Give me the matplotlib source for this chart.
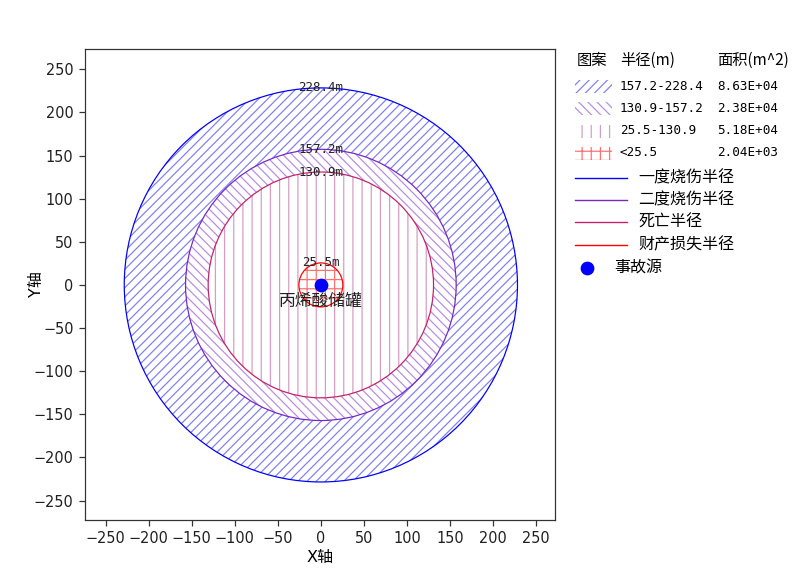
import matplotlib
matplotlib.use("Agg")
import matplotlib.pyplot as plt
from matplotlib.patches import Annulus, Circle, Rectangle
from matplotlib.lines import Line2D

# ---- data ----
radii = [228.4, 157.2, 130.9, 25.5]
radius_labels = ["228.4m", "157.2m", "130.9m", "25.5m"]
range_labels = ["157.2-228.4", "130.9-157.2", "25.5-130.9", "<25.5"]
area_labels = ["8.63E+04", "2.38E+04", "5.18E+04", "2.04E+03"]
line_names = ["一度烧伤半径", "二度烧伤半径", "死亡半径", "财产损失半径"]
source_xy = (0, 0)
source_name = "丙烯酸储罐"
source_label = "事故源"
ticks = [-250, -200, -150, -100, -50, 0, 50, 100, 150, 200, 250]

# ---- styles ----
hatches = ["////", "\\\\\\\\", "||", "++"]
hatch_colors = ["#8080f4", "#b88ce6", "#d89cc0", "#ff7070"]
edge_colors = ["#0000ff", "#7428c4", "#c4206c", "#ff0000"]

plt.rcParams['hatch.linewidth'] = 0.8
CJK = ['DejaVu Sans', 'Noto Sans CJK SC']
MONO = ['DejaVu Sans Mono', 'Noto Sans CJK SC']

DPI = 110
fig = plt.figure(figsize=(812 / DPI, 584 / DPI), dpi=DPI)
ax = fig.add_axes([85 / 812, 1 - 520 / 584, (555 - 85) / 812, (520 - 49) / 584])

# filled rings
for i, r in enumerate(radii):
    inner = radii[i + 1] if i + 1 < len(radii) else 0.0
    if inner > 0:
        p = Annulus(source_xy, r, r - inner, facecolor="none",
                    edgecolor=hatch_colors[i], hatch=hatches[i], linewidth=0)
    else:
        p = Circle(source_xy, r, facecolor="none", edgecolor=hatch_colors[i],
                   hatch=hatches[i], linewidth=0)
    ax.add_patch(p)

# outlines and labels
for i, r in enumerate(radii):
    ax.add_patch(Circle(source_xy, r, fill=False, edgecolor=edge_colors[i], linewidth=0.8))
    ax.text(source_xy[0], source_xy[1] + r, radius_labels[i], ha="center", va="center",
            fontsize=8.2, family=MONO, color="#202020")

ax.plot([source_xy[0]], [source_xy[1]], "o", color="#0000ff", markersize=8)
ax.text(source_xy[0], source_xy[1] - 19, source_name, ha="center", va="center",
        fontsize=11, family=CJK, color="#202020")

ax.set_xlim(-274, 272)
ax.set_ylim(-272.5, 273.5)
ax.set_xticks(ticks)
ax.set_yticks(ticks)
ax.tick_params(labelsize=9.5, length=4, width=0.8, color="#333333", labelcolor="#202020")
for s in ax.spines.values():
    s.set_color("#333333")
    s.set_linewidth(0.8)
ax.set_xlabel("X轴", family=CJK, fontsize=10.5)
ax.set_ylabel("Y轴", family=CJK, fontsize=10.5)
ax.xaxis.set_label_coords(0.5, (520 - 550) / 471)
ax.yaxis.set_label_coords((44 - 85) / 470, 0.5)

# ---- manual legend in pixel coords ----
lax = fig.add_axes([0, 0, 1, 1], facecolor="none")
lax.set_xlim(0, 812)
lax.set_ylim(584, 0)
lax.axis("off")

lax.text(577, 60, "图案", fontsize=10, family=CJK, va="center", ha="left")
lax.text(620, 60, "半径(m)", fontsize=10, family=['Noto Sans CJK SC'], va="center", ha="left")
lax.text(717, 60, "面积(m^2)", fontsize=10, family=['Noto Sans CJK SC'], va="center", ha="left")

row_y = [86, 108, 131, 153]
for i in range(len(range_labels)):
    y = row_y[i]
    lax.add_patch(Rectangle((575, y - 6.5), 37, 13, facecolor="none",
                            edgecolor=hatch_colors[i], hatch=hatches[i], linewidth=0))
    lax.text(620, y, range_labels[i], fontsize=8.3, family=MONO, va="center", ha="left")
    lax.text(717, y, area_labels[i], fontsize=8.3, family=MONO, va="center", ha="left")

line_y = [178, 200, 222, 245]
for i in range(len(line_names)):
    y = line_y[i]
    lax.add_line(Line2D([575, 627], [y, y], color=edge_colors[i], linewidth=0.9))
    lax.text(638, y, line_names[i], fontsize=10.5, family=CJK, va="center", ha="left")

lax.plot([587], [268], "o", color="#0000ff", markersize=8)
lax.text(614, 268, source_label, fontsize=10.5, family=CJK, va="center", ha="left")

fig.savefig("out.png", dpi=DPI)
